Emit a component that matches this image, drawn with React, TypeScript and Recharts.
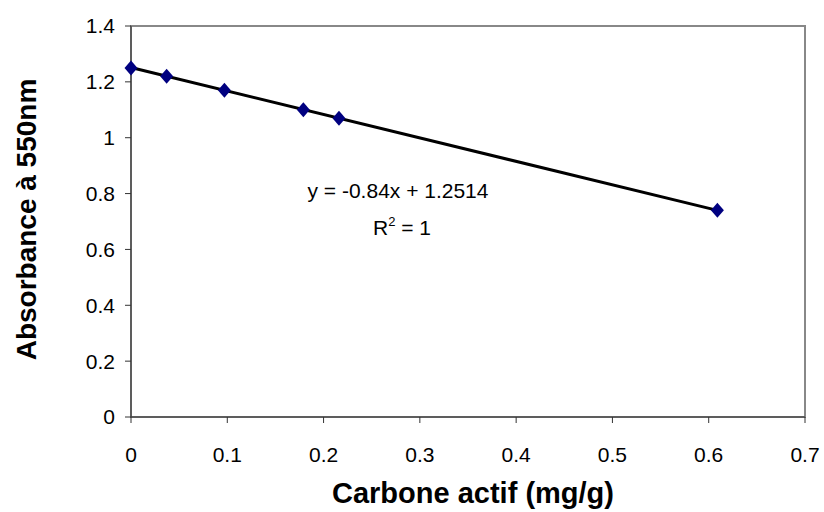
import { ScatterChart, Scatter, XAxis, YAxis, ReferenceLine, ReferenceArea } from "recharts";

const carbone = [0, 0.037, 0.097, 0.179, 0.216, 0.609];
const absorbance = [1.25, 1.22, 1.17, 1.1, 1.07, 0.74];

// trendline end points (Excel linear fit y = -0.84x + 1.2514)
const trendX = [0, 0.609];
const trendY = [1.2514, 0.7399];

const xTicks = [0, 0.1, 0.2, 0.3, 0.4, 0.5, 0.6, 0.7];
const yTicks = [0, 0.2, 0.4, 0.6, 0.8, 1, 1.2, 1.4];

const points = carbone.map((x, i) => ({ x, y: absorbance[i] }));

const FONT = "'Liberation Sans', Arial, sans-serif";

const Diamond = (props: any) => {
  const { cx, cy } = props;
  return (
    <polygon
      points={`${cx},${cy - 7.5} ${cx + 6.5},${cy} ${cx},${cy + 7.5} ${cx - 6.5},${cy}`}
      fill="#000080"
    />
  );
};

export default function App() {
  return (
    <div style={{ position: "absolute", left: 0, top: 0, width: 824, height: 512, background: "#fff", fontFamily: FONT }}>
      <ScatterChart width={824} height={512} margin={{ top: 26, right: 19, bottom: 0, left: 0 }}>
        <ReferenceArea x1={0} x2={0.7} y1={0} y2={1.4} fill="none" stroke="#888" strokeWidth={2} />
        <XAxis
          type="number"
          dataKey="x"
          domain={[0, 0.7]}
          ticks={xTicks}
          height={95}
          stroke="#333"
          tickSize={6}
          tickMargin={24}
          tick={{ fill: "#000", fontSize: 21, fontFamily: FONT }}
          label={{
            content: ({ viewBox }: any) => (
              <text
                x={viewBox.x + viewBox.width / 2 + 5}
                y={viewBox.y + viewBox.height - 9}
                textAnchor="middle"
                fontSize={29}
                fontWeight="bold"
                fontFamily={FONT}
                fill="#000"
              >
                Carbone actif (mg/g)
              </text>
            ),
          }}
        />
        <YAxis
          type="number"
          dataKey="y"
          domain={[0, 1.4]}
          ticks={yTicks}
          width={131}
          stroke="#333"
          tickSize={6}
          tickMargin={10}
          tick={{ fill: "#000", fontSize: 21, fontFamily: FONT }}
          label={{
            content: ({ viewBox }: any) => {
              const cx = 36;
              const cy = viewBox.y + viewBox.height / 2 - 2;
              return (
                <text
                  x={cx}
                  y={cy}
                  transform={`rotate(-90, ${cx}, ${cy})`}
                  textAnchor="middle"
                  fontSize={28}
                  fontWeight="bold"
                  fontFamily={FONT}
                  fill="#000"
                >
                  Absorbance à 550nm
                </text>
              );
            },
          }}
        />
        <Scatter data={points} shape={<Diamond />} isAnimationActive={false} />
        <ReferenceLine
          segment={[
            { x: trendX[0], y: trendY[0] },
            { x: trendX[1], y: trendY[1] },
          ]}
          stroke="#000"
          strokeWidth={3}
        />
        <text x={398} y={198} textAnchor="middle" fontSize={21} fontFamily={FONT} fill="#000">
          y = -0.84x + 1.2514
        </text>
        <text x={402} y={235} textAnchor="middle" fontSize={21} fontFamily={FONT} fill="#000">
          R<tspan fontSize={13} dy={-9}>2</tspan>
          <tspan dy={9}> = 1</tspan>
        </text>
      </ScatterChart>
    </div>
  );
}
